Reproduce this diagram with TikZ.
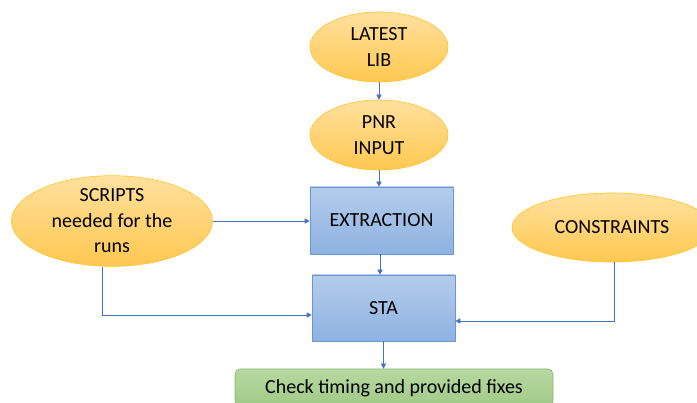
\documentclass[tikz,border=0pt]{standalone}
\usepackage{fontspec}
\setmainfont{Carlito}
\usetikzlibrary{shapes.geometric,arrows.meta}
\definecolor{ovaltop}{HTML}{FFE09E}
\definecolor{ovalbot}{HTML}{FFC850}
\definecolor{ovalline}{HTML}{FFC227}
\definecolor{boxtop}{HTML}{B4CCEB}
\definecolor{boxbot}{HTML}{8EB2E2}
\definecolor{boxline}{HTML}{6A96D4}
\definecolor{greentop}{HTML}{B7D8A2}
\definecolor{greenbot}{HTML}{A0CA86}
\definecolor{greenline}{HTML}{86B96A}
\definecolor{wire}{HTML}{4472C4}
\tikzset{
  x=1pt, y=-1pt,
  label font/.style={font=\fontsize{20}{25.5}\selectfont},
  oval/.style={ellipse, draw=ovalline, line width=0.6pt, top color=ovaltop, bottom color=ovalbot,
    inner sep=0pt, align=center, label font},
  stepbox/.style={rectangle, draw=boxline, line width=0.6pt, top color=boxtop, bottom color=boxbot,
    inner sep=0pt, label font},
  resultbox/.style={rectangle, rounded corners=5pt, draw=greenline, line width=0.6pt,
    top color=greentop, bottom color=greenbot, inner sep=0pt, label font},
  link/.style={draw=wire, line width=0.6pt, -{Triangle[length=5pt,width=5pt]}},
}
\begin{document}
\begin{tikzpicture}
\useasboundingbox (0,0) rectangle (697,403);
% input ovals
\node[oval, minimum width=138pt, minimum height=70pt] (lib) at (379,47) {LATEST\\LIB};
\node[oval, minimum width=138pt, minimum height=70pt] (pnr) at (379,135) {PNR\\INPUT};
\node[oval, minimum width=201pt, minimum height=78pt] (scripts) at (112,221) {SCRIPTS\\needed for the\\runs};
\node[oval, minimum width=200pt, minimum height=69pt] (cons) at (612,227.5) {CONSTRAINTS};
% flow steps
\node[stepbox, minimum width=143pt, minimum height=67pt] (extr) at (381.5,220.5) {EXTRACTION};
\node[stepbox, minimum width=143pt, minimum height=66pt] (sta) at (383.5,308) {STA};
\node[resultbox, minimum width=318pt, minimum height=38pt] (fix) at (394,388) {Check timing and provided fixes};
% side joints
\coordinate (sj) at (102,315);
\coordinate (cj) at (614,321);
% connectors
\draw[link] (lib) -- (pnr);
\draw[link] (pnr.south) -- (pnr.south |- extr.north);
\draw[link] (scripts.east) -- (extr.west |- scripts.east);
\draw[link] (extr.south -| 380,0) -- (380,0 |- sta.north);
\draw[link] (scripts.south -| sj) -- (sj) -- (sj -| sta.west);
\draw[link] (cons.south -| cj) -- (cj) -- (cj -| sta.east);
\draw[link] (sta.south) -- (sta.south |- fix.north);
\end{tikzpicture}
\end{document}
